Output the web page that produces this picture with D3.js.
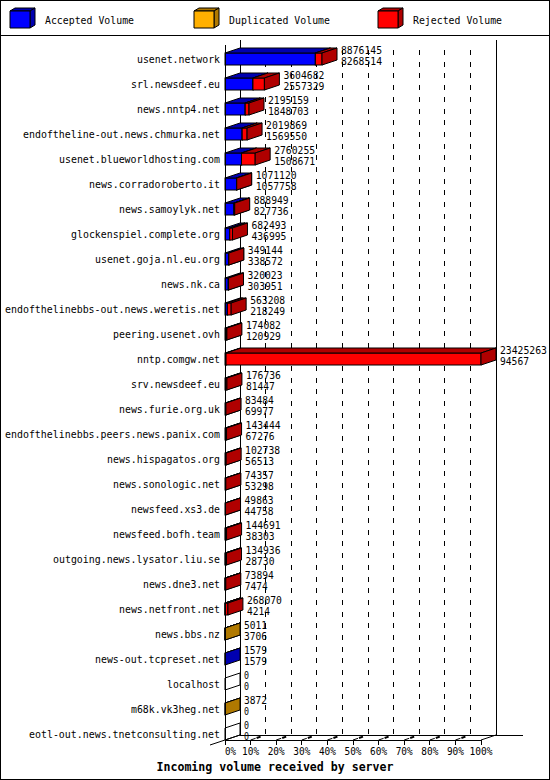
<!DOCTYPE html>
<html><head><meta charset="utf-8">
<script src="https://cdn.jsdelivr.net/npm/d3@7"></script>
<style>
body{margin:0;background:#fff}
text{font-family:"DejaVu Sans Mono","Liberation Mono",monospace;font-size:11px;fill:#000}
text.val{font-size:10px}
</style>
</head><body>
<svg id="chart" width="550" height="780"></svg>
<script>
// ---- data ----
const servers = [
  "usenet.network","srl.newsdeef.eu","news.nntp4.net","endoftheline-out.news.chmurka.net",
  "usenet.blueworldhosting.com","news.corradoroberto.it","news.samoylyk.net","glockenspiel.complete.org",
  "usenet.goja.nl.eu.org","news.nk.ca","endofthelinebbs-out.news.weretis.net","peering.usenet.ovh",
  "nntp.comgw.net","srv.newsdeef.eu","news.furie.org.uk","endofthelinebbs.peers.news.panix.com",
  "news.hispagatos.org","news.sonologic.net","newsfeed.xs3.de","newsfeed.bofh.team",
  "outgoing.news.lysator.liu.se","news.dne3.net","news.netfront.net","news.bbs.nz",
  "news-out.tcpreset.net","localhost","m68k.vk3heg.net","eotl-out.news.tnetconsulting.net"
];
const accepted = [
  8268514,2557329,1848703,1569550,1508671,1057758,827736,436995,
  338572,303951,218249,120929,94567,81447,69977,67276,
  56513,53298,44758,38303,28730,7474,4214,3706,
  1579,0,0,0
];
const duplicated = [
  0,0,0,0,0,0,0,0,
  0,0,0,0,0,0,0,0,
  0,0,0,0,0,0,0,1305,
  0,0,3872,0
];
const rejected = [
  607631,1047353,346456,450319,1251584,13362,61213,245498,
  10572,16072,344959,53153,23330696,95289,13507,76168,
  46225,21059,5105,106388,106206,66420,263856,0,
  0,0,0,0
];
const seriesNames = ["Accepted Volume","Duplicated Volume","Rejected Volume"];
const seriesColors = ["#0000ff","#ffb000","#ff0000"];
const seriesDark = ["#0000b0","#b07900","#b00000"];
const tickFractions = [0,0.1,0.2,0.3,0.4,0.5,0.6,0.7,0.8,0.9,1.0];
const tickLabels = ["0%","10%","20%","30%","40%","50%","60%","70%","80%","90%","100%"];
const axisTitle = "Incoming volume received by server";

// ---- layout ----
const W = 550, H = 780;
const DX = 15, DY = 5;          // 3d depth of plot
const BAR_H = 12;
const CW = 6;                   // char width of small font
const series = [accepted, duplicated, rejected];
const totals = servers.map((s, i) => accepted[i] + duplicated[i] + rejected[i]);
const maxTotal = d3.max(totals);

const x = d3.scaleLinear().domain([0, maxTotal]).range([225, 481]);
const y = d3.scalePoint().domain(servers).range([59, 734]);
const frontTop = 45, frontBottom = 740;

const svg = d3.select("#chart");
svg.append("rect").attr("x", 0.5).attr("y", 0.5).attr("width", W - 1).attr("height", H - 1)
  .attr("fill", "#fff").attr("stroke", "#000");
svg.append("line").attr("x1", 0).attr("x2", W).attr("y1", 35.5).attr("y2", 35.5).attr("stroke", "#000");

function txt(g, str, px, py, anchor, opts = {}) {
  const cw = opts.cw || CW;
  const t = g.append("text").attr("x", px).attr("y", py).attr("text-anchor", anchor)
    .attr("textLength", str.length * cw - 1).attr("lengthAdjust", "spacingAndGlyphs").text(str);
  if (opts.bold) t.attr("font-weight", "bold").style("font-size", "12px");
  if (opts.cls) t.attr("class", opts.cls);
  return t;
}

// ---- legend ----
const lg = svg.append("g");
seriesNames.forEach((name, k) => {
  const lx = 10 + k * 184, ly = 11, lw = 20, lh = 17, ldx = 5, ldy = 3;
  const g = lg.append("g").attr("stroke", "#000").attr("stroke-width", 1).attr("stroke-linejoin", "round");
  g.append("polygon").attr("points", [[lx, ly], [lx + ldx, ly - ldy], [lx + lw + ldx, ly - ldy], [lx + lw, ly]].join(" "))
    .attr("fill", seriesDark[k]);
  g.append("polygon").attr("points", [[lx + lw, ly], [lx + lw + ldx, ly - ldy], [lx + lw + ldx, ly + lh - ldy], [lx + lw, ly + lh]].join(" "))
    .attr("fill", seriesDark[k]);
  g.append("rect").attr("x", lx).attr("y", ly).attr("width", lw).attr("height", lh).attr("fill", seriesColors[k]);
  txt(lg, name, lx + 35, 24, "start");
});

// ---- back plane & grid ----
const grid = svg.append("g").attr("stroke", "#000").attr("shape-rendering", "crispEdges");
grid.append("line").attr("x1", x(0) + DX).attr("x2", x(0) + DX).attr("y1", frontTop - DY).attr("y2", frontBottom - DY);
grid.append("line").attr("x1", x(maxTotal) + DX).attr("x2", x(maxTotal) + DX).attr("y1", frontTop - DY).attr("y2", frontBottom - DY);
grid.append("line").attr("x1", x(0) + DX).attr("x2", x(maxTotal) + DX + 27).attr("y1", frontBottom - DY).attr("y2", frontBottom - DY);
tickFractions.slice(1, -1).forEach(f => {
  const gx = x(f * maxTotal) + DX;
  grid.append("line").attr("x1", gx).attr("x2", gx).attr("y1", 50).attr("y2", frontBottom - DY)
    .attr("stroke-dasharray", "5,6.7");
});

// ---- bars ----
const bars = svg.append("g").attr("stroke", "#000").attr("stroke-width", 1);
servers.forEach((s, i) => {
  const c = y(s), t = c - BAR_H / 2, b = c + BAR_H / 2;
  let cum = 0;
  let drew = false;
  series.forEach((vals, k) => {
    const v = vals[i];
    if (v <= 0) return;
    const x0 = x(cum), x1 = x(cum + v);
    cum += v;
    drew = true;
    bars.append("rect").attr("x", x0).attr("y", t).attr("width", Math.max(0, x1 - x0)).attr("height", BAR_H)
      .attr("fill", seriesColors[k]);
    bars.append("polygon").attr("points", [[x0, t], [x0 + DX, t - DY], [x1 + DX, t - DY], [x1, t]].join(" "))
      .attr("fill", seriesDark[k]);
    bars.append("polygon").attr("points", [[x1, t], [x1 + DX, t - DY], [x1 + DX, b - DY], [x1, b]].join(" "))
      .attr("fill", seriesDark[k]);
  });
  if (!drew) {
    const x1 = x(0);
    bars.append("polygon").attr("points", [[x1, t], [x1 + DX, t - DY], [x1 + DX, b - DY], [x1, b]].join(" "))
      .attr("fill", "#fff");
  }
});

// ---- front axes ----
const ax = svg.append("g").attr("stroke", "#000").attr("shape-rendering", "crispEdges");
ax.append("line").attr("x1", x(0)).attr("x2", x(0)).attr("y1", frontTop).attr("y2", frontBottom);
ax.append("line").attr("x1", x(0)).attr("x2", x(maxTotal)).attr("y1", frontBottom).attr("y2", frontBottom);
const ax2 = svg.append("g").attr("stroke", "#000");
ax2.append("line").attr("x1", x(maxTotal)).attr("x2", x(maxTotal) + DX).attr("y1", frontBottom).attr("y2", frontBottom - DY);
ax2.append("line").attr("x1", x(0) - DX).attr("x2", x(0) + DX).attr("y1", frontBottom + DY).attr("y2", frontBottom - DY);

tickFractions.forEach((f, k) => {
  const tx = x(f * maxTotal);
  ax.append("line").attr("x1", tx).attr("x2", tx).attr("y1", frontBottom).attr("y2", frontBottom + 5);
  if (k > 0 && k < tickFractions.length - 1) {
    ax2.append("line").attr("x1", tx).attr("x2", tx + 5).attr("y1", frontBottom).attr("y2", frontBottom - 1.7);
    ax2.append("line").attr("x1", tx + 6).attr("x2", tx + 10).attr("y1", frontBottom - 2).attr("y2", frontBottom - 3.4)
      .attr("stroke-width", 2);
  }
});

// ---- texts ----
const tg = svg.append("g");
servers.forEach((s, i) => {
  const c = y(s);
  txt(tg, s, 220, c + 3.5, "end");
  const vx = x(totals[i]) + DX + 4;
  txt(tg, String(totals[i]), vx, c - 5.5, "start", { cls: "val" });
  txt(tg, String(accepted[i]), vx, c + 5.5, "start", { cls: "val" });
});
tickFractions.forEach((f, k) => {
  const tx = x(f * maxTotal);
  txt(tg, tickLabels[k], tx, 755, k === 0 ? "start" : "middle");
});
txt(tg, axisTitle, W / 2, 771, "middle", { bold: true, cw: 7 });
</script>
</body></html>
